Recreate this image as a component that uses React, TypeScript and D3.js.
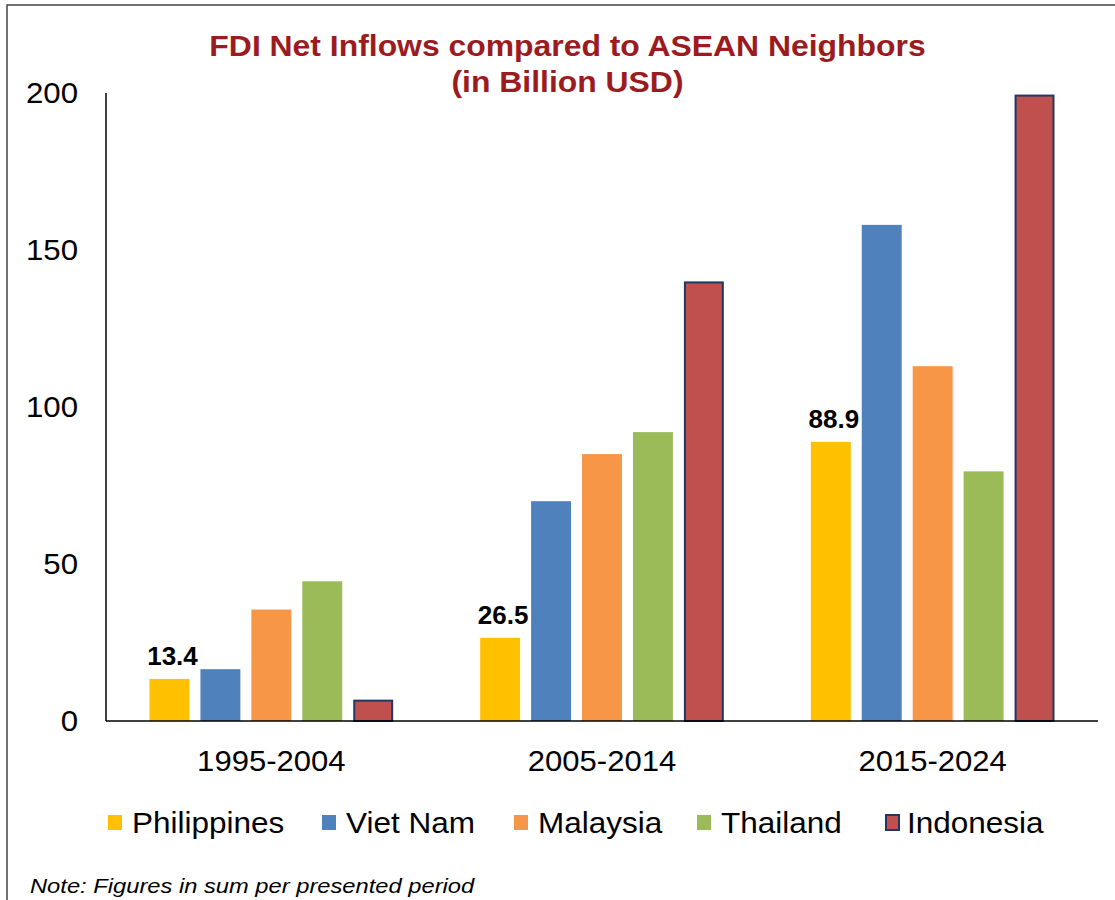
import React from "react";
import * as d3 from "d3";

const periods = ["1995-2004", "2005-2014", "2015-2024"];
const countries = ["Philippines", "Viet Nam", "Malaysia", "Thailand", "Indonesia"];
const philippines = [13.4, 26.5, 88.9];
const vietNam = [16.5, 70, 158];
const malaysia = [35.5, 85, 113];
const thailand = [44.5, 92, 79.5];
const indonesia = [6.8, 140, 199.5];
const yTicks = [0, 50, 100, 150, 200];
const labelledCountry = "Philippines";
const titleLines = ["FDI Net Inflows compared to ASEAN Neighbors", "(in Billion USD)"];
const note = "Note: Figures in sum per presented period";

const seriesValues: Record<string, number[]> = {
  Philippines: philippines,
  "Viet Nam": vietNam,
  Malaysia: malaysia,
  Thailand: thailand,
  Indonesia: indonesia,
};
const colors: Record<string, string> = {
  Philippines: "#FFC000",
  "Viet Nam": "#4F81BD",
  Malaysia: "#F79646",
  Thailand: "#9BBB59",
  Indonesia: "#C0504D",
};
const FONT = "'Liberation Sans', Arial, sans-serif";

function SText({ x, y, sx = 1, children, ...rest }: any) {
  return (
    <text transform={`translate(${x},${y}) scale(${sx},1)`} {...rest}>
      {children}
    </text>
  );
}

export default function App() {
  const W = 1115, H = 900;
  const left = 106, right = 1098, top = 93, bottom = 721;
  const x0 = d3.scaleBand<string>().domain(periods).range([left, right]);
  const inner = d3
    .scaleBand<string>()
    .domain(countries)
    .range([43.5, x0.bandwidth() - 43.5])
    .paddingInner(0.216)
    .paddingOuter(0);
  const y = d3.scaleLinear().domain([0, 200]).range([bottom, top]);
  const legendX = [108, 322, 514, 697, 885];

  return (
    <svg width={W} height={H} style={{ display: "block", position: "absolute", left: 0, top: 0 }} fontFamily={FONT}>
      <style>{`body{margin:0}`}</style>
      <rect x={0} y={0} width={W} height={H} fill="#fff" />
      <rect x={7} y={5} width={W + 20} height={H + 20} fill="none" stroke="#444" strokeWidth={1.5} />
      {titleLines.map((t, i) => (
        <SText key={i} x={567.5} y={56 + i * 36} sx={1.1} textAnchor="middle" fontSize={29} fontWeight="bold" fill="#9B1B1F">
          {t}
        </SText>
      ))}
      {yTicks.map((t) => (
        <SText key={t} x={78} y={y(t) + 10} sx={1.04} textAnchor="end" fontSize={30} fill="#000">
          {t}
        </SText>
      ))}
      {periods.map((p, gi) => (
        <g key={p} transform={`translate(${x0(p)},0)`}>
          {countries.map((c) => {
            const v = seriesValues[c][gi];
            const bx = inner(c)!;
            const isIndo = c === "Indonesia";
            return (
              <g key={c}>
                <rect
                  x={bx + (isIndo ? 1 : 0)}
                  y={y(v) + (isIndo ? 1 : 0)}
                  width={inner.bandwidth() - (isIndo ? 2 : 0)}
                  height={y(0) - y(v) - (isIndo ? 1 : 0)}
                  fill={colors[c]}
                  stroke={isIndo ? "#1F3864" : "none"}
                  strokeWidth={isIndo ? 2 : 0}
                />
                {c === labelledCountry && (
                  <SText x={bx + inner.bandwidth() / 2 + 3} y={y(v) - 14} sx={1.04} textAnchor="middle" fontSize={25} fontWeight="bold" fill="#000">
                    {v.toFixed(1)}
                  </SText>
                )}
              </g>
            );
          })}
          <SText x={x0.bandwidth() / 2} y={771} sx={1.035} textAnchor="middle" fontSize={30} fill="#000">
            {p}
          </SText>
        </g>
      ))}
      <line x1={left} x2={left} y1={top} y2={bottom} stroke="#000" strokeWidth={1.5} />
      <line x1={left} x2={right} y1={bottom} y2={bottom} stroke="#000" strokeWidth={1.5} />
      {countries.map((c, i) => (
        <g key={c} transform={`translate(${legendX[i]},0)`}>
          <rect
            x={c === "Indonesia" ? 1 : 0}
            y={815}
            width={c === "Indonesia" ? 13 : 14}
            height={15}
            fill={colors[c]}
            stroke={c === "Indonesia" ? "#1F3864" : "none"}
            strokeWidth={2}
          />
          <SText x={c === "Indonesia" ? 22 : 24} y={833} sx={1.05} fontSize={30} fill="#000">
            {c}
          </SText>
        </g>
      ))}
      <SText x={30} y={893} sx={1.13} fontSize={21} fontStyle="italic" fill="#000">
        {note}
      </SText>
    </svg>
  );
}
